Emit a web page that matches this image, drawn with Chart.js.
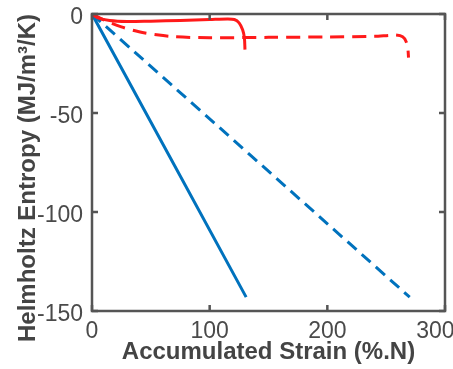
<!DOCTYPE html>
<html>
<head>
<meta charset="utf-8">
<script src="https://cdn.jsdelivr.net/npm/chart.js@4/dist/chart.umd.min.js"></script>
<style>
  html, body { margin: 0; padding: 0; background: #fff; }
  #wrap { width: 453px; height: 369px; }
</style>
</head>
<body>
<div id="wrap"><canvas id="entropyChart" width="453" height="369"></canvas></div>
<script>
// strain (%.N) and entropy (MJ/m^3/K) for each curve
var blueSolidX = [0, 131];
var blueSolidY = [0, -143];
var blueDashX = [0, 270];
var blueDashY = [0, -143];
var redSolidX = [0, 5, 15, 30, 50, 75, 100, 115, 121, 125, 128, 129.5, 130];
var redSolidY = [0, -2, -3.3, -3.8, -3.6, -3.3, -2.8, -2.5, -2.8, -4.5, -8, -12, -18];
var redDashX = [0, 10, 25, 40, 55, 70, 100, 150, 200, 240, 252, 258, 264, 267, 268.5, 269];
var redDashY = [0, -3, -6.5, -9, -10.5, -11.5, -12, -11.8, -11.6, -11.3, -10.8, -10.6, -11.5, -14, -18, -22];
var xTicks = [0, 100, 200, 300];
var yTicks = [0, -50, -100, -150];
var yTitle = 'Helmholtz Entropy (MJ/m³/K)';

function pts(xs, ys) {
    return xs.map(function (x, i) { return { x: x, y: ys[i] }; });
}

var AXIS = '#555555';
var LABEL = '#4a4a4a';

// box around the plot area with inward tick marks on all four sides,
// plus the rotated y title which sits a bit below the axis centre
var boxPlugin = {
    id: 'box',
    afterDraw: function (chart) {
        var ctx = chart.ctx, a = chart.chartArea;
        var xs = chart.scales.x, ys = chart.scales.y;
        var tl = 6;
        ctx.save();
        ctx.strokeStyle = AXIS;
        ctx.lineWidth = 2.5;
        ctx.strokeRect(a.left, a.top, a.right - a.left, a.bottom - a.top);
        ctx.beginPath();
        xTicks.forEach(function (v) {
            var px = xs.getPixelForValue(v);
            ctx.moveTo(px, a.bottom); ctx.lineTo(px, a.bottom - tl);
            ctx.moveTo(px, a.top); ctx.lineTo(px, a.top + tl);
        });
        yTicks.forEach(function (v) {
            var py = ys.getPixelForValue(v);
            ctx.moveTo(a.left, py); ctx.lineTo(a.left + tl, py);
            ctx.moveTo(a.right, py); ctx.lineTo(a.right - tl, py);
        });
        ctx.stroke();

        ctx.translate(28, 178);
        ctx.rotate(-Math.PI / 2);
        ctx.fillStyle = '#444444';
        ctx.font = 'bold 24px "Liberation Sans"';
        ctx.textAlign = 'center';
        ctx.textBaseline = 'middle';
        ctx.fillText(yTitle, 0, 0);
        ctx.restore();
    }
};

var ctx = document.getElementById('entropyChart').getContext('2d');

var chart = new Chart(ctx, {
    type: 'scatter',
    data: {
        datasets: [
            { data: pts(redSolidX, redSolidY), borderColor: '#ff1a1a', borderWidth: 3 },
            { data: pts(redDashX, redDashY), borderColor: '#ff1a1a', borderWidth: 3, borderDash: [14, 8] },
            { data: pts(blueSolidX, blueSolidY), borderColor: '#0072bd', borderWidth: 3 },
            { data: pts(blueDashX, blueDashY), borderColor: '#0072bd', borderWidth: 3, borderDash: [12, 7] }
        ]
    },
    options: {
        responsive: false,
        animation: false,
        showLine: true,
        elements: { point: { radius: 0 }, line: { tension: 0.3, borderCapStyle: 'butt' } },
        layout: { padding: { top: 14, right: 8, bottom: 0, left: 0 } },
        plugins: { legend: { display: false }, tooltip: { enabled: false } },
        scales: {
            x: {
                type: 'linear',
                min: 0, max: 300,
                afterBuildTicks: function (s) { s.ticks = xTicks.map(function (v) { return { value: v }; }); },
                afterFit: function (s) { s.height = 58; s.paddingLeft = 0; s.paddingRight = 0; },
                grid: { display: false, drawTicks: false },
                border: { display: false },
                ticks: {
                    padding: 7, color: LABEL, maxRotation: 0,
                    font: { family: 'Liberation Sans', size: 23 },
                    // last label is pulled in so it stays on the canvas
                    callback: function (v) { return v === 300 ? '300\u2007 ' : String(v); }
                },
                title: {
                    display: true, text: 'Accumulated Strain (%.N)', color: '#444444',
                    font: { family: 'Liberation Sans', size: 24, weight: 'bold' },
                    padding: { top: 0, bottom: 2 }
                }
            },
            y: {
                type: 'linear',
                min: -150, max: 0,
                afterBuildTicks: function (s) { s.ticks = yTicks.map(function (v) { return { value: v }; }); },
                afterFit: function (s) { s.width = 92; s.paddingTop = 0; s.paddingBottom = 0; },
                grid: { display: false, drawTicks: false },
                border: { display: false },
                ticks: { padding: 9, labelOffset: 4, color: LABEL, font: { family: 'Liberation Sans', size: 23 } },
                title: { display: false }
            }
        }
    },
    plugins: [boxPlugin]
});
</script>
</body>
</html>
